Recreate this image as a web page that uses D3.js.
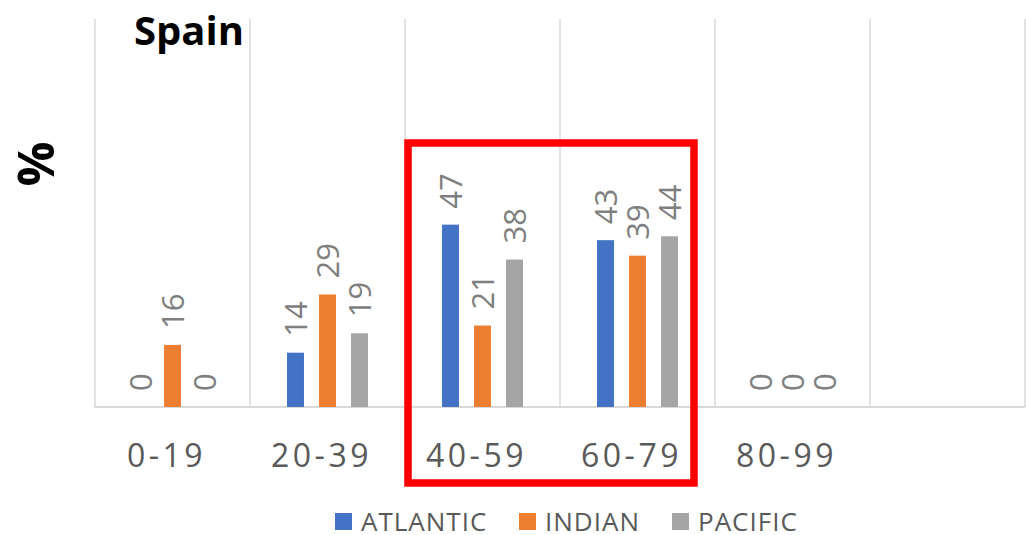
<!DOCTYPE html>
<html>
<head>
<meta charset="UTF-8">
<title>Spain</title>
<script src="https://cdn.jsdelivr.net/npm/d3@7"></script>
<style>
  body { margin: 0; background: #fff; }
  text { font-family: "Open Sans", sans-serif; }
  .grid line { stroke: #d9d9d9; stroke-width: 1.5px; }
  .tick-label { fill: #595959; font-size: 32px; letter-spacing: 3.5px; }
  .val { fill: #7f7f7f; font-size: 31px; }
  .legend text { fill: #595959; font-size: 26px; letter-spacing: 1px; }
</style>
</head>
<body>
<svg width="1026" height="535"></svg>
<script>
// data
var categories = ["0-19", "20-39", "40-59", "60-79", "80-99", ""];
var seriesNames = ["ATLANTIC", "INDIAN", "PACIFIC"];
var atlantic = [0, 14, 47, 43, 0];
var indian = [16, 29, 21, 39, 0];
var pacific = [0, 19, 38, 44, 0];
var colors = ["#4472c4", "#ed7d31", "#a5a5a5"];
var highlighted = ["40-59", "60-79"];

var series = [atlantic, indian, pacific];

var svg = d3.select("svg");
var plotLeft = 95, plotRight = 1025, plotTop = 19, plotBottom = 407;

var x = d3.scaleBand().domain(categories).range([plotLeft, plotRight]);
var xs = d3.scaleBand().domain(seriesNames).range([-40.5, 40.5]).paddingInner(0.47);
var y = d3.scaleLinear().domain([0, 100]).range([plotBottom, plotTop]);

// vertical gridlines at band edges
var edges = categories.map(function(c) { return x(c); }).concat([plotRight]);
svg.append("g").attr("class", "grid").selectAll("line")
    .data(edges).enter().append("line")
    .attr("x1", d => d).attr("x2", d => d)
    .attr("y1", plotTop).attr("y2", plotBottom);

// baseline
svg.append("line")
    .attr("x1", plotLeft - 1).attr("x2", plotRight)
    .attr("y1", plotBottom).attr("y2", plotBottom)
    .attr("stroke", "#d9d9d9").attr("stroke-width", 2);

// bars + labels
var rows = [];
categories.slice(0, atlantic.length).forEach(function(c, i) {
    seriesNames.forEach(function(s, j) {
        rows.push({cat: c, s: s, v: series[j][i], color: colors[j]});
    });
});

var g = svg.append("g");
g.selectAll("rect").data(rows).enter().append("rect")
    .attr("x", d => x(d.cat) + x.bandwidth() / 2 + xs(d.s))
    .attr("width", xs.bandwidth())
    .attr("y", d => y(d.v))
    .attr("height", d => plotBottom - y(d.v))
    .attr("fill", d => d.color);

g.selectAll("text").data(rows).enter().append("text")
    .attr("class", "val")
    .attr("transform", function(d) {
        var cx = x(d.cat) + x.bandwidth() / 2 + xs(d.s) + xs.bandwidth() / 2;
        return "translate(" + cx + "," + (y(d.v) - 16) + ") rotate(-90)";
    })
    .attr("dy", "0.36em")
    .text(d => d.v);

// category labels
svg.append("g").selectAll("text").data(categories).enter().append("text")
    .attr("class", "tick-label")
    .attr("x", d => x(d) + x.bandwidth() / 2 - 6)
    .attr("y", 467)
    .attr("text-anchor", "middle")
    .text(d => d);

// title and axis title
svg.append("text").attr("x", 134).attr("y", 45)
    .style("font-size", "40px").style("font-weight", "bold").attr("fill", "#000")
    .text("Spain");
svg.append("text")
    .attr("transform", "translate(54,164) rotate(-90)")
    .attr("text-anchor", "middle")
    .style("font-size", "50px").style("font-weight", "bold").attr("fill", "#000")
    .text("%");

// highlight box around the two middle groups
var h0 = x(highlighted[0]), h1 = x(highlighted[1]) + x.bandwidth();
svg.append("rect")
    .attr("x", h0 + 3).attr("y", 143)
    .attr("width", h1 - h0 + 131 - x.bandwidth())
    .attr("height", 340)
    .attr("fill", "none").attr("stroke", "#ff0000").attr("stroke-width", 7.5);

// legend
var legendX = [335, 519, 672];
var lg = svg.append("g").attr("class", "legend").selectAll("g")
    .data(seriesNames).enter().append("g")
    .attr("transform", (d, i) => "translate(" + legendX[i] + ",513)");
lg.append("rect").attr("width", 17).attr("height", 17).attr("fill", (d, i) => colors[i]);
lg.append("text").attr("x", 26).attr("y", 18).text(d => d);
</script>
</body>
</html>
